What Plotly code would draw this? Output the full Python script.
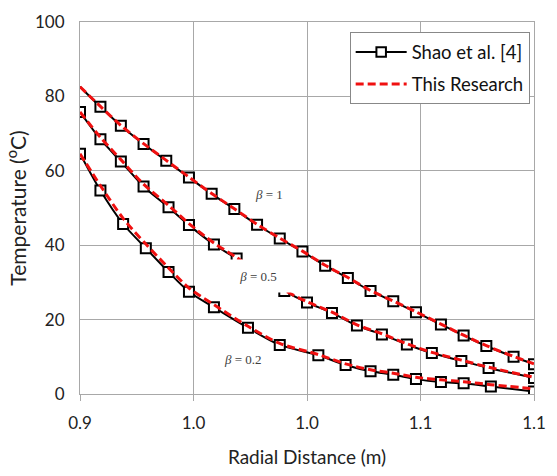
import plotly.graph_objects as go

# Radial positions (m) and temperatures (degC) for the Shao et al. reference curves
shao_r_b1 = [0.900, 0.909, 0.918, 0.928, 0.938, 0.948, 0.958, 0.968, 0.978, 0.988, 0.998,
             1.008, 1.018, 1.028, 1.038, 1.048, 1.059, 1.069, 1.079, 1.091, 1.100]
shao_t_b1 = [82.6, 77.2, 72.1, 67.2, 62.7, 58.2, 53.8, 49.7, 45.5, 41.8, 38.3,
             34.5, 31.2, 27.7, 24.9, 22.0, 18.7, 15.7, 12.9, 10.0, 8.0]

shao_r_b05 = [0.900, 0.909, 0.918, 0.928, 0.939, 0.948, 0.959, 0.969,
              0.990, 1.000, 1.011, 1.022, 1.033, 1.044, 1.055, 1.068, 1.080, 1.100]
shao_t_b05 = [75.8, 68.5, 62.5, 55.8, 50.2, 45.4, 40.2, 36.4,
              27.7, 24.6, 21.8, 18.4, 16.0, 13.3, 11.0, 8.9, 7.0, 4.3]

shao_r_b02 = [0.900, 0.909, 0.919, 0.929, 0.939, 0.948, 0.959, 0.974, 0.988,
              1.005, 1.017, 1.028, 1.038, 1.048, 1.059, 1.069, 1.081, 1.100]
shao_t_b02 = [64.6, 54.7, 45.7, 39.2, 32.8, 27.5, 23.3, 17.8, 13.2,
              10.4, 7.8, 6.1, 5.2, 4.0, 3.2, 2.9, 2.0, 0.7]

# Present model results at the same radial stations
res_t_b1 = [82.6, 77.3, 72.2, 67.3, 62.8, 58.3, 53.9, 49.8, 45.6, 41.9, 38.4,
            34.6, 31.3, 27.8, 25.0, 22.1, 18.8, 15.8, 13.0, 10.1, 8.1]
res_t_b05 = [75.8, 69.0, 63.0, 56.4, 50.7, 45.8, 40.6, 36.7,
             27.9, 24.8, 22.0, 18.6, 16.2, 13.5, 11.2, 9.1, 7.2, 4.5]
res_t_b02 = [64.6, 56.0, 47.2, 40.3, 33.9, 28.5, 24.0, 18.2, 13.6,
             10.6, 8.1, 6.5, 5.6, 4.5, 3.8, 3.3, 2.5, 1.4]

# Axis ticks
x_tickvals = [0.90, 0.95, 1.00, 1.05, 1.10]
x_ticktext = ["0.9", "1.0", "1.0", "1.1", "1.1"]
y_tickvals = [0, 20, 40, 60, 80, 100]

beta_labels = ["<i>β</i> = 1", "<i>β</i> = 0.5", "<i>β</i> = 0.2"]
beta_label_x = [0.9832, 0.9785, 0.9720]
beta_label_y = [53.6, 31.6, 9.3]

FONT = "Lato"
GRID = "#a8a8a8"
INK = "#222222"

fig = go.Figure()

shao_sets = [(shao_r_b1, shao_t_b1), (shao_r_b05, shao_t_b05), (shao_r_b02, shao_t_b02)]
for i, (r, t) in enumerate(shao_sets):
    sizes = [10] * len(r)
    if i == 0:
        sizes[0] = 0  # curve begins without a symbol at the inner radius
    fig.add_trace(go.Scatter(
        x=r, y=t, mode="lines+markers", name="Shao et al. [4]",
        legendgroup="shao", showlegend=(i == 0),
        line=dict(color="black", width=2, shape="spline", smoothing=0.8),
        marker=dict(symbol="square", size=sizes, color="white", opacity=1,
                    line=dict(color="black", width=2)),
    ))

res_sets = [(shao_r_b1, res_t_b1), (shao_r_b05, res_t_b05), (shao_r_b02, res_t_b02)]
for i, (r, t) in enumerate(res_sets):
    fig.add_trace(go.Scatter(
        x=r, y=t, mode="lines", name="This Research",
        legendgroup="res", showlegend=(i == 0),
        line=dict(color="#f01010", width=3, dash="8px,4px", shape="spline", smoothing=0.8),
    ))

for k, (txt, lx, ly) in enumerate(zip(beta_labels, beta_label_x, beta_label_y)):
    ann = dict(x=lx, y=ly, xref="x", yref="y", text=txt, showarrow=False,
               font=dict(family="Liberation Serif", size=13, color="#404040"))
    if k == 1:
        # label box is opaque and hides the curve behind it
        ann.update(bgcolor="white", width=66, height=30)
    fig.add_annotation(**ann)

axis_common = dict(
    showgrid=True, gridcolor=GRID, gridwidth=1,
    showline=True, linecolor=GRID, linewidth=1, mirror=True,
    zeroline=False,
    tickfont=dict(family=FONT, size=17, color=INK),
)

fig.update_xaxes(
    range=[0.9, 1.1], tickmode="array", tickvals=x_tickvals, ticktext=x_ticktext,
    ticks="outside", ticklen=6, tickcolor=GRID,
    title=dict(text="Radial Distance (m)", font=dict(family=FONT, size=19, color=INK),
               standoff=18),
    ticklabelstandoff=8,
    **axis_common,
)
fig.update_yaxes(
    range=[0, 100], tickmode="array", tickvals=y_tickvals,
    ticks="",
    title=dict(text="Temperature (<sup>o</sup>C)", font=dict(family=FONT, size=21, color=INK),
               standoff=2),
    ticklabelstandoff=11,
    **axis_common,
)

fig.update_layout(
    width=557, height=476,
    margin=dict(l=80, r=11, t=13, b=70),
    paper_bgcolor="white", plot_bgcolor="white",
    showlegend=True,
    legend=dict(
        x=0.594, y=0.972, xanchor="left", yanchor="top",
        bgcolor="white", bordercolor="#888888", borderwidth=1,
        font=dict(family=FONT, size=18.5, color="#111111"),
        itemwidth=51, tracegroupgap=5,
    ),
)

fig.write_html("out.html")
